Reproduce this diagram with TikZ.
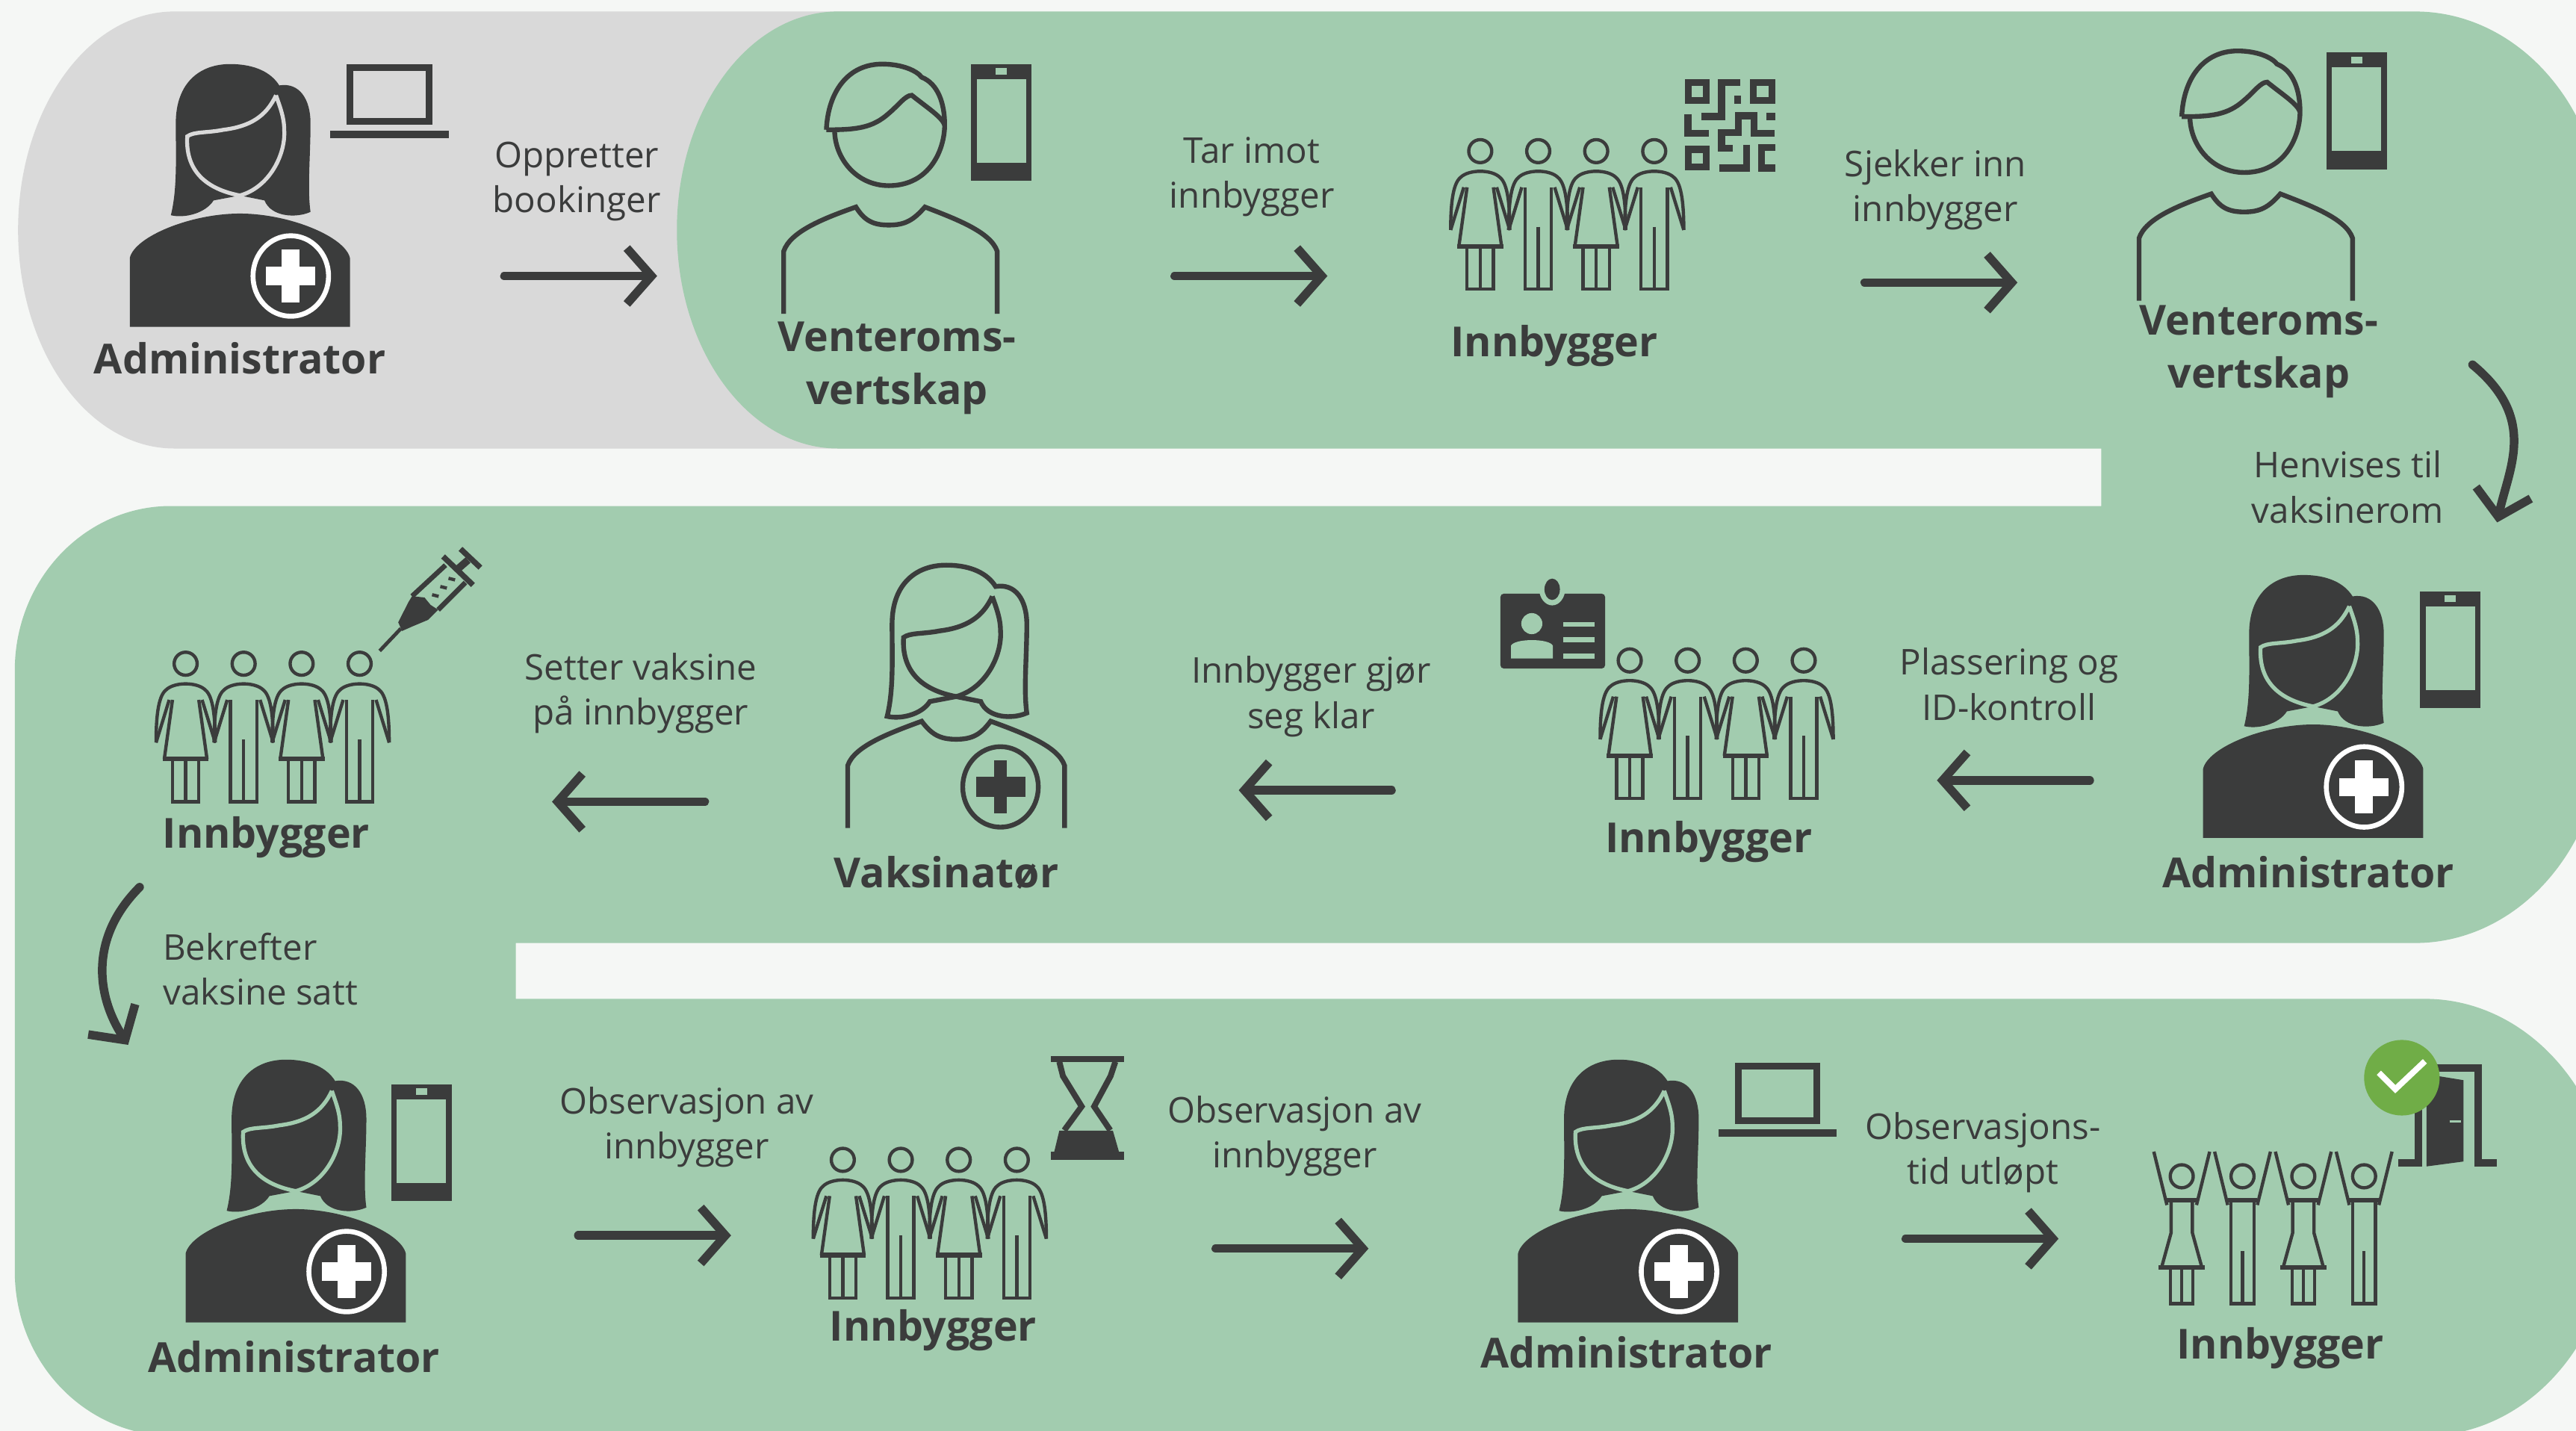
\documentclass[tikz,border=0pt]{standalone}
\usepackage{fontspec}
\setmainfont{Open Sans}
\usetikzlibrary{arrows.meta,positioning}
\definecolor{ink}{HTML}{3B3C3C}
\definecolor{pagebg}{HTML}{F5F7F5}
\definecolor{leaf}{HTML}{A2CCAF}
\definecolor{ash}{HTML}{D9D9D9}
\definecolor{okgreen}{HTML}{70AD47}
\tikzset{
  lbl/.style={inner sep=0pt,align=center,text=ink,font=\fontsize{21.6}{27.4}\selectfont},
  who/.style={inner sep=0pt,align=center,text=ink,font=\fontsize{25.2}{32}\selectfont\bfseries},
  flow/.style={ink,line width=5.2pt,line cap=round,-{Straight Barb[length=15pt,width=34pt]}},
  thinline/.style={ink,line width=2pt},
  headline/.style={ink,line width=2.9pt},
  pics/admin/.style={code={
    \fill[ink] (-42,-68) .. controls (-38,-84) and (-39,-104) .. (-39,-124)
      .. controls (-39,-149) and (-24,-160) .. (-6,-160)
      .. controls (9,-160) and (19,-155) .. (24,-147)
      .. controls (36,-149) and (43,-139) .. (43,-124)
      .. controls (43,-104) and (41,-84) .. (43,-70)
      .. controls (34,-66) and (19,-67) .. (15,-77) -- (0,-80) -- (-16,-77)
      .. controls (-21,-69) and (-34,-66) .. (-42,-68) -- cycle;
    \draw[#1,line width=2.4pt] (22,-141) .. controls (16,-128) and (6,-122) .. (-10,-120)
      .. controls (-20,-118) and (-28,-119) .. (-32,-116)
      .. controls (-33,-100) and (-26,-85) .. (0,-80)
      .. controls (18,-85) and (28,-105) .. (27,-120)
      .. controls (27,-128) and (24,-135) .. (22,-141);
    \fill[ink] (-67,0) -- (-67,-42) .. controls (-64,-55) and (-30,-69) .. (0,-69)
      .. controls (30,-69) and (64,-55) .. (67,-42) -- (67,0) -- cycle;
    \draw[white,fill=ink,line width=3pt] (31,-31) ellipse[x radius=23,y radius=24.5];
    \fill[white] (25.5,-47) rectangle (36.5,-15);
    \fill[white] (16,-36.5) rectangle (46,-25.5);
  }},
  vaccinator/.pic={
    \draw[headline] (-42,-68) .. controls (-38,-84) and (-39,-104) .. (-39,-124)
      .. controls (-39,-149) and (-24,-160) .. (-6,-160)
      .. controls (9,-160) and (19,-155) .. (24,-147)
      .. controls (36,-149) and (43,-139) .. (43,-124)
      .. controls (43,-104) and (41,-84) .. (43,-70)
      .. controls (34,-66) and (19,-67) .. (15,-77) -- (0,-80) -- (-16,-77)
      .. controls (-21,-69) and (-34,-66) .. (-42,-68) -- cycle;
    \draw[headline] (22,-141) .. controls (16,-128) and (6,-122) .. (-10,-120)
      .. controls (-20,-118) and (-28,-119) .. (-32,-116)
      .. controls (-33,-100) and (-26,-85) .. (0,-80)
      .. controls (18,-85) and (28,-105) .. (27,-120)
      .. controls (27,-128) and (24,-135) .. (22,-141);
    \draw[headline] (-66,0) -- (-66,-38) .. controls (-62,-50) and (-40,-58) .. (-21,-65)
      .. controls (-15,-57) and (-10,-54) .. (0,-54)
      .. controls (10,-54) and (15,-57) .. (21,-65)
      .. controls (40,-58) and (62,-50) .. (66,-38) -- (66,0);
    \draw[headline] (27,-25) ellipse[x radius=23,y radius=24.5];
    \fill[ink] (23,-41) rectangle (31,-9);
    \fill[ink] (12,-31) rectangle (42,-19);
  },
  host/.pic={
    \draw[headline] (-38,-112) .. controls (-37,-135) and (-25,-152) .. (-4,-152)
      .. controls (8,-152) and (17,-148) .. (20,-144)
      .. controls (30,-140) and (34,-128) .. (34,-115)
      .. controls (34,-100) and (25,-78) .. (0,-78)
      .. controls (-20,-78) and (-33,-95) .. (-33,-112);
    \draw[headline] (-38,-112) .. controls (-20,-112) and (-10,-113) .. (0,-122)
      .. controls (6,-127) and (10,-133) .. (14,-133)
      .. controls (24,-125) and (32,-120) .. (34,-115);
    \draw[headline] (-64,0) -- (-64,-38) .. controls (-60,-50) and (-40,-58) .. (-20,-65)
      .. controls (-15,-57) and (-10,-54) .. (0,-54)
      .. controls (10,-54) and (15,-57) .. (22,-65)
      .. controls (40,-58) and (62,-50) .. (66,-38) -- (66,0);
  },
  figtop/.pic={
    \draw[thinline] (0,-84) circle (7);
    \draw[thinline] (-18,-36) .. controls (-18,-50) and (-17,-64) .. (-12,-68)
      .. controls (-7,-73) and (7,-73) .. (12,-68)
      .. controls (17,-64) and (18,-50) .. (18,-36);
    \draw[thinline] (-18,-36) -- (-10,-62);
    \draw[thinline] (18,-36) -- (10,-62);
  },
  womanfig/.pic={
    \pic {figtop};
    \draw[thinline] (-8,-62) -- (-13,-26);
    \draw[thinline] (8,-62) -- (13,-26);
    \draw[ink,line width=2.8pt] (-14,-26) -- (14,-26);
    \draw[thinline] (-8,-26) -- (-8,0) -- (8,0) -- (8,-26);
    \draw[thinline] (0,-26) -- (0,0);
  },
  manfig/.pic={
    \pic {figtop};
    \draw[thinline] (-8,-62) -- (-8,0) -- (8,0) -- (8,-62);
    \draw[thinline] (0,-38) -- (0,0);
  },
  citizens/.pic={
    \foreach \gx in {0,70.6} \pic at (\gx,0) {womanfig};
    \foreach \gx in {35.3,105.9} \pic at (\gx,0) {manfig};
  },
  upfig/.pic={
    \draw[thinline] (0,-77.5) circle (7);
    \draw[ink,line width=2.6pt] (-9,-63) -- (9,-63);
    \draw[thinline] (-17,-92.5) -- (-9,-60);
    \draw[thinline] (17,-92.5) -- (9,-60);
  },
  womanup/.pic={
    \pic {upfig};
    \draw[thinline] (-6.5,-63) -- (-6.5,-43) -- (-12,-23);
    \draw[thinline] (6.5,-63) -- (6.5,-43) -- (12,-23);
    \draw[ink,line width=2.8pt] (-14,-22) -- (14,-22);
    \draw[thinline] (-6.8,-22) -- (-6.8,0) -- (6.8,0) -- (6.8,-22);
    \draw[thinline] (0,-22) -- (0,0);
  },
  manup/.pic={
    \pic {upfig};
    \draw[thinline] (-7,-63) -- (-7,0) -- (7,0) -- (7,-63);
    \draw[thinline] (0,-32) -- (0,0);
  },
  laptop/.pic={
    \draw[ink,line width=4pt] (-24,-43) rectangle (24,-10);
    \fill[ink] (-36,-4.5) rectangle (36,0);
  },
  phone/.pic={
    \fill[ink] (0,0) rectangle (37,71);
    \fill[leaf] (3.5,9) rectangle (33.5,60);
    \fill[leaf] (15,2.5) rectangle (22,6.5);
  },
}
\begin{document}
\begin{tikzpicture}[x=1pt,y=-1pt]
\useasboundingbox (0,0) rectangle (1568,871);
\clip (0,0) rectangle (1568,871);
\fill[pagebg] (0,0) rectangle (1568,871);
\fill[ash] (106,7) -- (560,7) -- (560,273) -- (106,273) arc[x radius=95,y radius=133,start angle=90,end angle=270] -- cycle;
\fill[leaf] (510,7) -- (1470,7) arc[x radius=115,y radius=133,start angle=-90,end angle=0]
  -- (1585,441) arc[x radius=115,y radius=133,start angle=0,end angle=90]
  -- (314,574) -- (314,608) -- (1476,608) arc[x radius=115,y radius=133,start angle=-90,end angle=90]
  -- (105,874) arc[x radius=96,y radius=100,start angle=90,end angle=180]
  -- (9,408) arc[x radius=95,y radius=100,start angle=180,end angle=270]
  -- (1279,308) -- (1279,273) -- (510,273)
  arc[x radius=98,y radius=133,start angle=90,end angle=270] -- cycle;
% actors
\pic (adminA) at (146,199) {admin=ash};
\pic (hostA) at (541,191) {host};
\pic (hostB) at (1366,183) {host};
\pic (adminB) at (1408,510) {admin=leaf};
\pic (vaccA) at (582,504) {vaccinator};
\pic (adminC) at (180,805) {admin=leaf};
\pic (adminD) at (991,805) {admin=leaf};
\pic (groupA) at (901,176) {citizens};
\pic (groupB) at (992,486) {citizens};
\pic (groupC) at (113,488) {citizens};
\pic (groupD) at (513,790) {citizens};
\foreach \gx in {1328,1402} \pic at (\gx,793.5) {womanup};
\foreach \gx in {1365,1439} \pic at (\gx,793.5) {manup};
% small objects
\pic (laptopA) at (237,84) {laptop};
\pic (laptopB) at (1082,692) {laptop};
\pic (phoneA) at (591,39) {phone};
\pic (phoneB) at (1416,32) {phone};
\pic (phoneC) at (1473,360) {phone};
\pic (phoneD) at (238,660) {phone};
\begin{scope}[shift={(1018.3,40.9)},scale=.1515,ink,line width=4.2pt]
\draw (61,61) rectangle (133,133);
\draw (322,61) rectangle (398,133);
\draw (61,330) rectangle (133,400);
\draw (270,62)--(195,62)--(195,198)--(115,198);
\draw (260,115)--(260,147);
\draw (60,188)--(60,265)--(145,265);
\draw (240,325)--(195,325)--(195,262)--(262,262)--(262,195)--(325,195)--(325,265)--(408,265);
\draw (375,198)--(410,198);
\draw (295,312)--(295,405)--(185,405);
\draw (410,322)--(355,322)--(355,405)--(410,405);
\end{scope}
% id card
\fill[ink,rounded corners=2pt] (913.3,361.4) rectangle (977,406.9);
\fill[leaf] (944.8,358) ellipse[x radius=8,y radius=10.5];
\fill[ink] (944.8,358.7) ellipse[x radius=4.7,y radius=6.5];
\fill[leaf] (932.4,379.6) circle (6.4);
\fill[leaf] (919.7,400.8) -- (919.7,393) .. controls (922,388.5) and (943,388.5) .. (945.2,393) -- (945.2,400.8) -- cycle;
\fill[leaf] (951.5,378.5) rectangle (970.6,381.4);
\fill[leaf] (951.5,388) rectangle (970.6,391);
\fill[leaf] (951.5,397.8) rectangle (970.6,400.8);
% syringe
\draw[ink,line width=2.2pt] (231.1,396.2)--(244,382.6);
\fill[ink] (242.4,378.8)--(248.5,366.7)--(250.8,362.9)--(258.4,363.7)--(262.1,368.2)--(266.7,371.2)--(260.6,377.3)--(251.5,381.1)--(244.7,384.1)--cycle;
\draw[ink,line width=3pt] (250.8,362.9)--(271.2,344);
\draw[ink,line width=3pt] (266.7,371.2)--(283.3,354.6);
\draw[ink,line width=2pt] (263,362)--(267,363);
\draw[ink,line width=2pt] (268,357)--(272,358);
\draw[ink,line width=2pt] (273,352)--(277,353);
\draw[ink,line width=3.4pt] (269.7,338.7)--(287.9,356.1);
\draw[ink,line width=4.5pt] (278.8,346.2)--(284.9,340.9);
\draw[ink,line width=3.4pt] (280.3,334.1)--(292.4,345.5);
% hourglass
\fill[ink] (639.8,642.8) rectangle (684.2,646.3);
\fill[ink] (639.8,701.1) rectangle (684.2,705.8);
\draw[ink,line width=3.6pt] (644.8,646.3)--(647,655)--(658.4,673.5)--(647.8,688);
\draw[ink,line width=3.6pt] (678.9,646.3)--(676,655)--(666,673.5)--(675.8,688);
\fill[ink] (644.8,688.2)--(677.4,688.2)--(681.1,701.1)--(641.7,701.1)--cycle;
% door and check
\draw[ink,line width=4.5pt] (1460,708)--(1472,708)--(1472,660);
\draw[ink,line width=4.5pt] (1483,650)--(1508.5,650)--(1508.5,708)--(1520,708);
\fill[ink] (1477,710)--(1499.5,707)--(1499.5,657.5)--(1484,655)--(1477,660)--cycle;
\draw[leaf,line width=1.2pt] (1491,682.5)--(1498,682.5);
\fill[okgreen] (1462,656) circle (23);
\draw[white,line width=3.6pt] (1448,653)--(1458,663)--(1476,646);
% texts
\node[who] (nameA) at (146,218) {Administrator};
\node[who] (nameB) at (546,224) {Venteroms-\\vertskap};
\node[who] (nameC) at (946,210.5) {Innbygger};
\node[who] (nameD) at (1375,214) {Venteroms-\\vertskap};
\node[who] (nameE) at (1405,531) {Administrator};
\node[who] (nameF) at (1040,512.5) {Innbygger};
\node[who] (nameG) at (576,531) {Vaksinatør};
\node[who] (nameH) at (162,509.5) {Innbygger};
\node[who] (nameI) at (179,826) {Administrator};
\node[who] (nameJ) at (568,809.5) {Innbygger};
\node[who] (nameK) at (990,823) {Administrator};
\node[who] (nameL) at (1388,820.5) {Innbygger};
\node[lbl] (stepA) at (351,110.5) {Oppretter\\bookinger};
\node[lbl] (stepB) at (762,107.5) {Tar imot\\innbygger};
\node[lbl] (stepC) at (1178,115.5) {Sjekker inn\\innbygger};
\node[lbl] (stepD) at (1429,296.5) {Henvises til\\vaksinerom};
\node[lbl] (stepE) at (1223,416.5) {Plassering og\\ID-kontroll};
\node[lbl] (stepF) at (798,424) {Innbygger gjør\\seg klar};
\node[lbl] (stepG) at (390,422) {Setter vaksine\\på innbygger};
\node[lbl,align=left,anchor=west] (stepH) at (99,590) {Bekrefter\\vaksine satt};
\node[lbl] (stepI) at (418,686) {Observasjon av\\innbygger};
\node[lbl] (stepJ) at (788,691.5) {Observasjon av\\innbygger};
\node[lbl] (stepK) at (1207,701.5) {Observasjons-\\tid utløpt};
% arrows
\coordinate (a1s) at (307,168); \coordinate (a1e) at (400,168);
\coordinate (a2s) at (715,168); \coordinate (a2e) at (808,168);
\coordinate (a3s) at (1135,172); \coordinate (a3e) at (1228,172);
\coordinate (a4s) at (1505,222); \coordinate (a4e) at (1520,318);
\coordinate (a5s) at (1272,475); \coordinate (a5e) at (1179,475);
\coordinate (a6s) at (847,481); \coordinate (a6e) at (754,481);
\coordinate (a7s) at (429,488); \coordinate (a7e) at (336,488);
\coordinate (a8s) at (85,540); \coordinate (a8e) at (78,636);
\coordinate (a9s) at (352,752); \coordinate (a9e) at (445,752);
\coordinate (a10s) at (740,760); \coordinate (a10e) at (833,760);
\coordinate (a11s) at (1160,754); \coordinate (a11e) at (1253,754);
\draw[flow] (a1s) -- (a1e);
\draw[flow] (a2s) -- (a2e);
\draw[flow] (a3s) -- (a3e);
\draw[flow] (a4s) .. controls (1545,255) and (1527,285) .. (a4e);
\draw[flow] (a5s) -- (a5e);
\draw[flow] (a6s) -- (a6e);
\draw[flow] (a7s) -- (a7e);
\draw[flow] (a8s) .. controls (55,570) and (58,605) .. (a8e);
\draw[flow] (a9s) -- (a9e);
\draw[flow] (a10s) -- (a10e);
\draw[flow] (a11s) -- (a11e);
\end{tikzpicture}
\end{document}
